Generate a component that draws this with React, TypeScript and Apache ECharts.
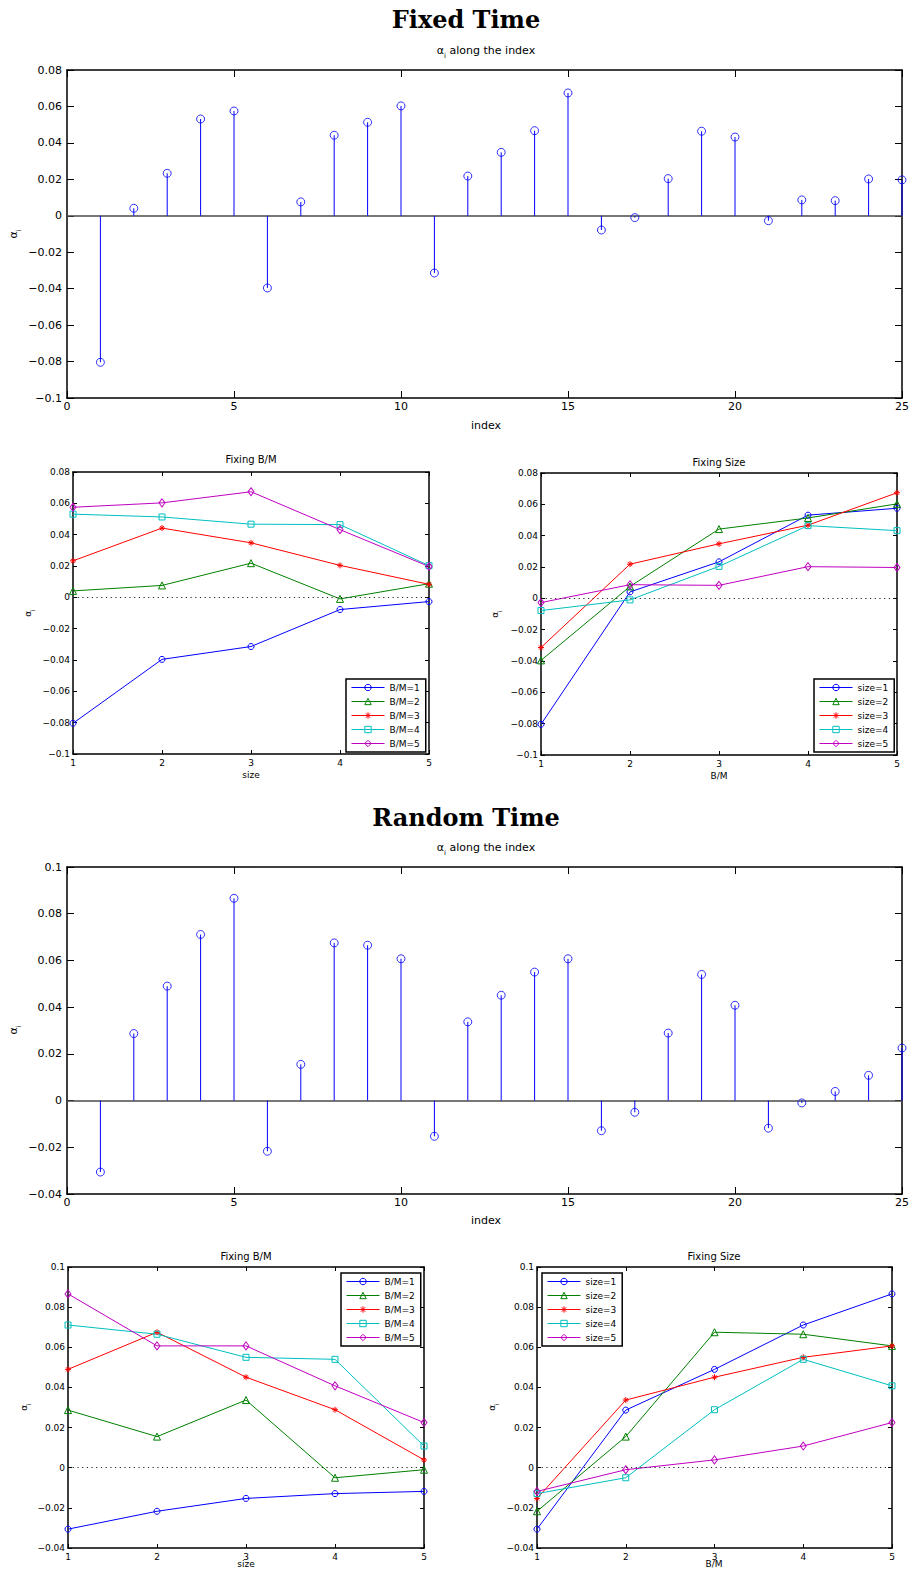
import React, { useEffect, useRef } from "react";
import * as echarts from "echarts";

// ---------------- data ----------------
const indexValues = [1, 2, 3, 4, 5, 6, 7, 8, 9, 10, 11, 12, 13, 14, 15, 16, 17, 18, 19, 20, 21, 22, 23, 24, 25];
// alpha_i, index = (size-1)*5 + B/M
const fixedAlpha = [
  -0.0804, 0.0041, 0.0233, 0.0531, 0.0575,
  -0.0396, 0.0076, 0.0442, 0.0513, 0.0603,
  -0.0314, 0.0218, 0.0348, 0.0467, 0.0674,
  -0.0078, -0.001, 0.0204, 0.0464, 0.0432,
  -0.0027, 0.0087, 0.0083, 0.0202, 0.0197,
];
const randomAlpha = [
  -0.0306, 0.0287, 0.049, 0.0711, 0.0866,
  -0.0217, 0.0155, 0.0675, 0.0665, 0.0607,
  -0.0153, 0.0337, 0.0451, 0.055, 0.0607,
  -0.0129, -0.005, 0.0289, 0.054, 0.0408,
  -0.0118, -0.001, 0.0039, 0.0108, 0.0225,
];
const groupValues = [1, 2, 3, 4, 5];
const bmNames = ["B/M=1", "B/M=2", "B/M=3", "B/M=4", "B/M=5"];
const sizeNames = ["size=1", "size=2", "size=3", "size=4", "size=5"];
const lineColors = ["#0000ff", "#008000", "#ff0000", "#00bfbf", "#bf00bf"];
const STAR = "path://M5,0L5,10M0,5L10,5M1.6,1.6L8.4,8.4M1.6,8.4L8.4,1.6";
const lineSymbols = ["circle", "triangle", STAR, "rect", "diamond"];
const lineSymbolSizes: any[] = [6, 7, 6, 6, [6, 8]];

const FONT = "DejaVu Sans";
const STEM = "#0000ff";

const fmt = (v: number) => {
  const r = Math.round(v * 100) / 100;
  if (r === 0) return "0";
  return String(r).replace("-", "\u2212");
};

function makeAxes(
  g: number,
  xMin: number, xMax: number, xInt: number,
  yMin: number, yMax: number, yInt: number,
  fontSize: number, tickLen: number, yMargin: number, xMargin: number
) {
  const line = { show: true, onZero: false, lineStyle: { color: "#000", width: 1.5 } };
  const tick = { show: true, inside: true, length: tickLen, lineStyle: { color: "#000", width: 1 } };
  const label = { show: true, color: "#000", fontFamily: FONT, fontSize, margin: yMargin, formatter: fmt };
  const xs = [
    { type: "value", gridIndex: g, position: "bottom", min: xMin, max: xMax, interval: xInt, axisLine: line, axisTick: tick, axisLabel: { ...label, margin: xMargin, formatter: (v: number) => String(v) }, splitLine: { show: false } },
    { type: "value", gridIndex: g, position: "top", min: xMin, max: xMax, interval: xInt, axisLine: line, axisTick: tick, axisLabel: { show: false }, splitLine: { show: false } },
  ];
  const ys = [
    { type: "value", gridIndex: g, position: "left", min: yMin, max: yMax, interval: yInt, axisLine: line, axisTick: tick, axisLabel: label, splitLine: { show: false } },
    { type: "value", gridIndex: g, position: "right", min: yMin, max: yMax, interval: yInt, axisLine: line, axisTick: tick, axisLabel: { show: false }, splitLine: { show: false } },
  ];
  return { xs, ys };
}

function stemSeries(g: number, values: number[]) {
  const data = indexValues.map((x, i) => [x, values[i]]);
  return [
    {
      type: "custom",
      xAxisIndex: 2 * g,
      yAxisIndex: 2 * g,
      data,
      renderItem: (_p: any, api: any) => {
        const x = api.value(0);
        const y = api.value(1);
        const p0 = api.coord([x, 0]);
        const p1 = api.coord([x, y]);
        return {
          type: "line",
          shape: { x1: p0[0], y1: p0[1], x2: p1[0], y2: p1[1] },
          style: { stroke: STEM, lineWidth: 1 },
        };
      },
      z: 2,
    },
    {
      type: "scatter",
      xAxisIndex: 2 * g,
      yAxisIndex: 2 * g,
      data,
      symbol: "circle",
      symbolSize: 8,
      itemStyle: { color: "rgba(0,0,0,0)", borderColor: STEM, borderWidth: 1 },
      z: 3,
      markLine: {
        silent: true,
        symbol: ["none", "none"],
        label: { show: false },
        lineStyle: { color: "#4a4a4a", width: 1.5, type: "solid" },
        data: [{ yAxis: 0 }],
        z: 1,
      },
    },
  ];
}

function lineGroup(g: number, values: number[], byBM: boolean) {
  const names = byBM ? bmNames : sizeNames;
  return names.map((name, k) => {
    const data = groupValues.map((x, j) => {
      const idx = byBM ? j * 5 + k : k * 5 + j;
      return [x, values[idx]];
    });
    const s: any = {
      type: "line",
      name,
      xAxisIndex: 2 * g,
      yAxisIndex: 2 * g,
      data,
      symbol: lineSymbols[k],
      symbolSize: lineSymbolSizes[k],
      showAllSymbol: true,
      color: lineColors[k],
      lineStyle: { color: lineColors[k], width: 1 },
      itemStyle: { color: "rgba(0,0,0,0)", borderColor: lineColors[k], borderWidth: 1 },
      z: 3,
    };
    if (k === 0) {
      s.markLine = {
        silent: true,
        symbol: ["none", "none"],
        label: { show: false },
        lineStyle: { color: "#222", width: 1, type: [1.2, 3.5] },
        data: [{ yAxis: 0 }],
      };
    }
    return s;
  });
}

function legendAt(names: string[], left: number, top: number) {
  return {
    data: names,
    left,
    top,
    orient: "vertical",
    backgroundColor: "#fff",
    borderColor: "#000",
    borderWidth: 1.5,
    borderRadius: 0,
    padding: [4, 6, 4, 5],
    itemWidth: 33,
    itemHeight: 8,
    itemGap: 5,
    selectedMode: false,
    itemStyle: { color: "rgba(0,0,0,0)", borderWidth: 1 },
    lineStyle: { width: 1 },
    textStyle: { fontFamily: FONT, fontSize: 9, color: "#000" },
  };
}

function txt(x: number, y: number, text: string, fontSize: number, extra: any = {}) {
  return {
    type: "text",
    x,
    y,
    silent: true,
    style: { text, fontSize, fontFamily: FONT, fill: "#000", align: "center", verticalAlign: "middle", ...extra },
  };
}

function alphaLabel(x: number, y: number, fs: number, rotate: boolean, tail = "") {
  const rich: any = {
    a: { fontSize: fs, fontFamily: FONT, fill: "#000", lineHeight: Math.round(fs * 1.6) },
    s: { fontSize: Math.round(fs * 0.62), fontFamily: FONT, fill: "#000", lineHeight: Math.round(fs * 0.7), verticalAlign: "bottom" },
    b: { fontSize: fs, fontFamily: FONT, fill: "#000", lineHeight: Math.round(fs * 1.6) },
  };
  return {
    type: "text",
    x,
    y,
    rotation: rotate ? Math.PI / 2 : 0,
    silent: true,
    style: {
      text: "{a|\u03b1}{s|i}" + (tail ? "{b|" + tail + "}" : ""),
      rich,
      align: "center",
      verticalAlign: "middle",
    },
  };
}

export default function App() {
  const ref = useRef<HTMLDivElement>(null);
  useEffect(() => {
    document.body.style.margin = "0";
    if (!ref.current) return;
    const chart = echarts.init(ref.current, undefined, { renderer: "svg" });

    const grids = [
      { left: 67, top: 70, width: 838, height: 328 },
      { left: 73, top: 472, width: 356, height: 282 },
      { left: 541, top: 473, width: 356, height: 282 },
      { left: 67, top: 867, width: 838, height: 327 },
      { left: 68, top: 1267, width: 356, height: 281 },
      { left: 537, top: 1267, width: 355, height: 281 },
    ];
    const axes = [
      makeAxes(0, 0, 25, 5, -0.1, 0.08, 0.02, 11, 7, 5, 3),
      makeAxes(1, 1, 5, 1, -0.1, 0.08, 0.02, 9, 4, 3, 4),
      makeAxes(2, 1, 5, 1, -0.1, 0.08, 0.02, 9, 4, 3, 4),
      makeAxes(3, 0, 25, 5, -0.04, 0.1, 0.02, 11, 7, 5, 3),
      makeAxes(4, 1, 5, 1, -0.04, 0.1, 0.02, 9, 4, 3, 4),
      makeAxes(5, 1, 5, 1, -0.04, 0.1, 0.02, 9, 4, 3, 4),
    ];

    const option: any = {
      animation: false,
      backgroundColor: "#fff",
      grid: grids.map((g) => ({ ...g, containLabel: false })),
      xAxis: axes.flatMap((a) => a.xs),
      yAxis: axes.flatMap((a) => a.ys),
      legend: [
        legendAt(bmNames, 346, 679),
        legendAt(sizeNames, 814, 679),
        legendAt(bmNames, 341, 1273),
        legendAt(sizeNames, 542, 1273),
      ],
      series: [
        ...stemSeries(0, fixedAlpha),
        ...lineGroup(1, fixedAlpha, true),
        ...lineGroup(2, fixedAlpha, false),
        ...stemSeries(3, randomAlpha),
        ...lineGroup(4, randomAlpha, true),
        ...lineGroup(5, randomAlpha, false),
      ],
      graphic: {
        elements: [
          txt(466, 19, "Fixed Time", 24, { fontFamily: "DejaVu Serif", fontWeight: "bold" }),
          alphaLabel(486, 50, 11, false, " along the index"),
          alphaLabel(13, 234, 11, true),
          txt(486, 425, "index", 11),
          txt(251, 459, "Fixing B/M", 10),
          txt(719, 462, "Fixing Size", 10),
          alphaLabel(28, 613, 9, true),
          alphaLabel(495, 614, 9, true),
          txt(251, 775, "size", 9),
          txt(719, 776, "B/M", 9),

          txt(466, 817, "Random Time", 24, { fontFamily: "DejaVu Serif", fontWeight: "bold" }),
          alphaLabel(486, 847, 11, false, " along the index"),
          alphaLabel(13, 1030, 11, true),
          txt(486, 1220, "index", 11),
          txt(246, 1256, "Fixing B/M", 10),
          txt(714, 1256, "Fixing Size", 10),
          alphaLabel(24, 1407, 9, true),
          alphaLabel(492, 1407, 9, true),
          txt(246, 1564, "size", 9),
          txt(714, 1564, "B/M", 9),
        ],
      },
    };
    chart.setOption(option);
    return () => chart.dispose();
  }, []);
  return (
    <div
      ref={ref}
      style={{ position: "absolute", left: 0, top: 0, width: 912, height: 1570, overflow: "hidden", background: "#fff" }}
    />
  );
}
